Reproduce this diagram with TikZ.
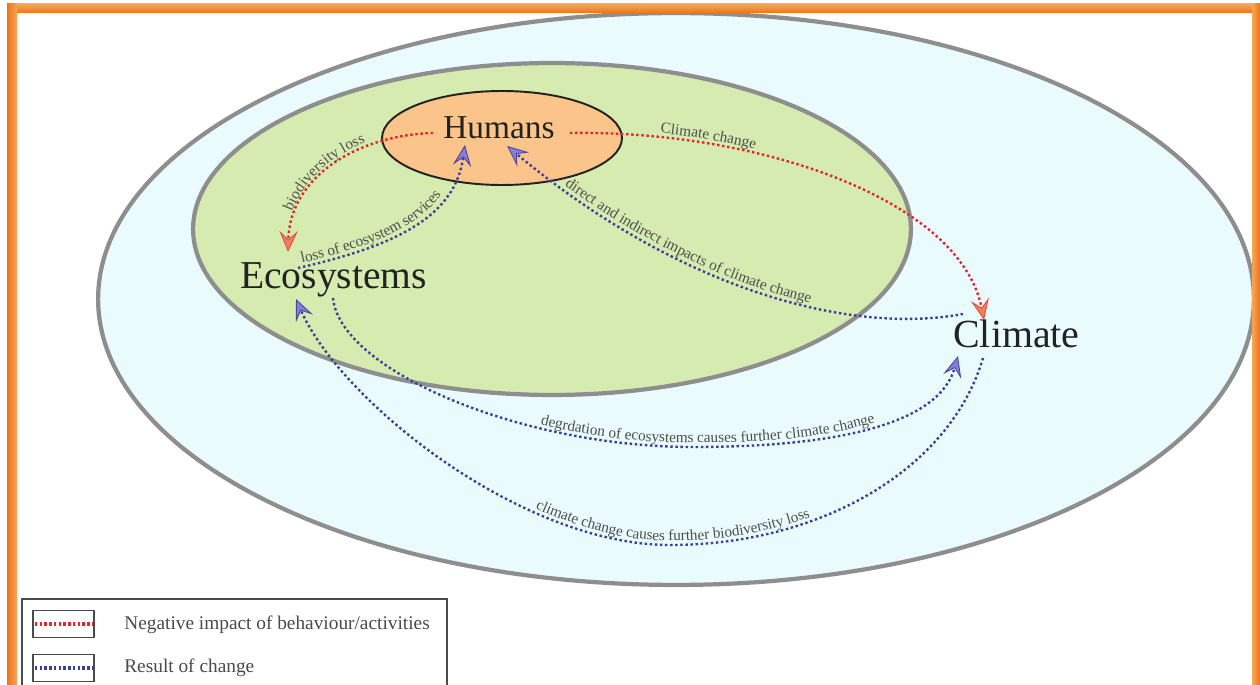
\documentclass[tikz,border=0pt]{standalone}
\usepackage{fontspec}
\setmainfont{Liberation Serif}
\usetikzlibrary{arrows.meta,decorations.text}

\definecolor{frameorange}{HTML}{EE7415}
\definecolor{frameorangelight}{HTML}{F8A55A}
\definecolor{skyfill}{HTML}{E9FBFD}
\definecolor{ringgray}{HTML}{8E8E8E}
\definecolor{leaffill}{HTML}{D5EBB0}
\definecolor{peach}{HTML}{FBC48A}
\definecolor{negred}{HTML}{E3262E}
\definecolor{resblue}{HTML}{3B3F98}
\definecolor{tipred}{HTML}{F47D5E}
\definecolor{tipredline}{HTML}{E0503A}
\definecolor{tipblue}{HTML}{877CD8}
\definecolor{tipblueline}{HTML}{4A44A0}
\definecolor{lblgray}{HTML}{4E4E4E}
\definecolor{inkdark}{HTML}{222222}
\definecolor{legendgray}{HTML}{4A4A4A}

\newcommand\lblfont{\fontsize{8.7}{10}\selectfont}

\tikzset{
  negline/.style={draw=negred, line width=1.35pt, dash pattern=on 1.4pt off 1.5pt,
    -{Stealth[length=12pt,width=10.5pt,inset=4.8pt,fill=tipred,color=tipredline,line width=0.5pt]}},
  resline/.style={draw=resblue, line width=1.35pt, dash pattern=on 1.4pt off 1.5pt,
    -{Stealth[length=12pt,width=10.5pt,inset=4.8pt,fill=tipblue,color=tipblueline,line width=0.5pt]}},
  lbl/.style n args={2}{postaction={arrows=-, decorate, decoration={text along path,
    raise=2.3pt, text color=lblgray, text align={left indent=#1}, text={|\lblfont|#2}}}},
  rlbl/.style n args={2}{postaction={arrows=-, decorate, decoration={text along path,
    reverse path, raise=2.3pt, text color=lblgray, text align={left indent=#1}, text={|\lblfont|#2}}}},
  bigword/.style={anchor=base, inner sep=0pt, text=inkdark},
  legkey/.style={draw=legendgray, line width=0.8pt, minimum width=1.22cm, minimum height=0.54cm, inner sep=0pt},
  legtext/.style={anchor=west, inner sep=0pt, text=legendgray, font=\fontsize{11}{13}\selectfont},
  negdots/.style={draw=negred, line width=1.8pt, dash pattern=on 1.4pt off 1.3pt},
  resdots/.style={draw=resblue, line width=1.8pt, dash pattern=on 1.4pt off 1.3pt},
}

\begin{document}
\begin{tikzpicture}[x=0.02cm, y=-0.02cm]
\useasboundingbox (0,0) rectangle (1260,685);
\fill[white] (0,0) rectangle (1260,685);

% nested spheres: environment, ecosystems, humans
\filldraw[fill=skyfill, draw=ringgray, line width=2.4pt]
  (676,299) ellipse [x radius=11.56cm, y radius=5.72cm];
\filldraw[fill=leaffill, draw=ringgray, line width=2.4pt]
  (552,229) ellipse [x radius=7.18cm, y radius=3.32cm];
\filldraw[fill=peach, draw=inkdark, line width=1.1pt]
  (502,138) ellipse [x radius=2.4cm, y radius=0.94cm];

% main labels
\node[bigword, font=\fontsize{19}{22}\selectfont] (humt) at (499,139) {Humans};
\node[bigword, font=\fontsize{22.5}{26}\selectfont] (ecot) at (333.5,289) {Ecosystems};
\node[bigword, font=\fontsize{22.7}{26}\selectfont] (clit) at (1016.5,348) {Climate};

% connector ends beside the labels
\coordinate (hL)  at (433,133);
\coordinate (hR)  at (570,133);
\coordinate (hB1) at (465,145);
\coordinate (hB2) at (507,146);
\coordinate (eTop) at (288,252);
\coordinate (eNE) at (298,268);
\coordinate (eB)  at (333,298);
\coordinate (eBL) at (296,299);
\coordinate (cTop) at (984,320);
\coordinate (cW)  at (963,314);
\coordinate (cB1) at (958,356);
\coordinate (cB2) at (983,358);

% negative impacts of behaviour
\draw[negline, rlbl={0.8cm}{biodiversity loss}]
  (hL) .. controls (360,135) and (290,175) .. (eTop);
\draw[negline, lbl={1.8cm}{Climate change}]
  (hR) .. controls (760,130) and (960,200) .. (cTop);

% results of change
\draw[resline, lbl={0.1cm}{loss of ecosystem services}]
  (eNE) .. controls (400,245) and (455,215) .. (hB1);
\draw[resline, rlbl={1.4cm}{direct and indirect impacts of climate change}]
  (cW) .. controls (850,335) and (680,290) .. (hB2);
\draw[resline, lbl={5.1cm}{degrdation of ecosystems causes further climate change}]
  (eB) .. controls (340,370) and (520,447) .. (693,447)
       .. controls (850,447) and (940,420) .. (cB1);
\draw[resline, rlbl={6.5cm}{climate change causes further biodiversity loss}]
  (cB2) .. controls (950,470) and (820,545) .. (670,545)
        .. controls (520,545) and (340,400) .. (eBL);

% legend
\draw[draw=legendgray, line width=0.8pt, fill=white] (22,599) rectangle (447,700);
\node[legkey] (k1) at (63.5,624) {};
\node[legkey] (k2) at (63.5,668) {};
\draw[negdots] ([xshift=1.5pt]k1.west) -- ([xshift=-1.5pt]k1.east);
\draw[resdots] ([xshift=1.5pt]k2.west) -- ([xshift=-1.5pt]k2.east);
\node[legtext] (t1) at (124,625) {Negative impact of behaviour/activities};
\node[legtext] (t2) at (124,668) {Result of change};

% orange frame
\shade[top color=frameorangelight, bottom color=frameorange] (7,4) rectangle (1260,13);
\shade[left color=frameorange, right color=frameorangelight] (7,4) rectangle (17,685);
\shade[left color=frameorangelight, right color=frameorange] (1252,4) rectangle (1260,685);
\end{tikzpicture}
\end{document}
